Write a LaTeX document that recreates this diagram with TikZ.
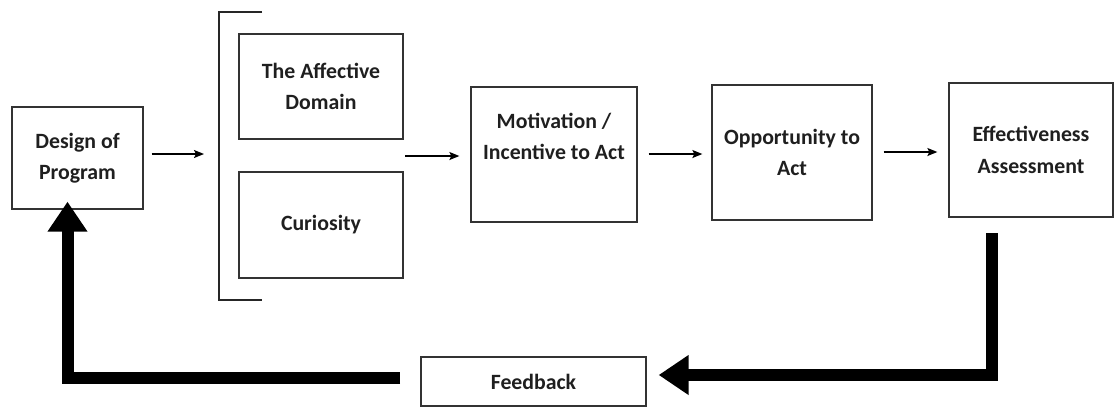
\documentclass[tikz,border=0pt]{standalone}
\usepackage{fontspec}
\setmainfont{Carlito}
\usetikzlibrary{arrows.meta}
\begin{document}
\begin{tikzpicture}[x=1pt,y=-1pt,
  box/.style={draw=black!80, line width=1.3pt, rectangle, inner sep=0pt,
    align=center, text=black!88, font=\bfseries\fontsize{21.8}{31.5}\selectfont},
  flow/.style={line width=1.4pt, -{Stealth[length=10pt,width=8pt,inset=2pt]}},
  loop/.style={line width=12pt, miter limit=10, line join=miter,
    -{Triangle[length=30pt,width=38pt]}},
  brk/.style={draw=black!85, line width=1.5pt}]
\useasboundingbox (0,0) rectangle (1115,408);

% process boxes
\node[box, minimum width=131pt, minimum height=102pt] (des) at (77.5,158) {Design of\\Program};
\node[box, minimum width=164pt, minimum height=105pt] (aff) at (321,86.5) {The Affective\\Domain};
\node[box, minimum width=164pt, minimum height=106pt] (cur) at (321,225) {Curiosity};
\node[box, minimum width=166pt, minimum height=135pt] (mot) at (554,154.5) {Motivation /\\Incentive to Act\\[5pt]\mbox{}};
\node[box, minimum width=160pt, minimum height=135pt] (opp) at (792,152.5) {Opportunity to\\Act};
\node[box, minimum width=164pt, minimum height=134pt] (eff) at (1031,150) {Effectiveness\\Assessment};
\node[box, minimum width=225pt, minimum height=49pt] (fb) at (533.5,381.5) {Feedback};

% bracket grouping the two inner boxes
\coordinate (btop) at (262,12);
\coordinate (bbot) at (262,300);
\coordinate (bin) at (204,154);
\coordinate (bout) at (405,156);
\draw[brk] (btop) -- (219,12) -- (219,300) -- (bbot);

% forward flow
\draw[flow] ([xshift=8pt]des.east |- bin) -- (bin);
\draw[flow] (bout) -- ([xshift=-11pt]mot.west |- bout);
\draw[flow] ([xshift=11pt]mot.east |- 0,154) -- ([xshift=-9pt]opp.west |- 0,154);
\draw[flow] ([xshift=11pt]opp.east |- 0,152) -- ([xshift=-11pt]eff.west |- 0,152);

% feedback loop
\coordinate (r0) at (992,233);
\coordinate (l0) at (400,378);
\draw[loop] (r0) -- (992,375) -- ([xshift=12pt]fb.east |- 0,375);
\draw[loop] (l0) -- (67.5,378) -- ([yshift=8pt]des.south -| 67.5,0);
\end{tikzpicture}
\end{document}
